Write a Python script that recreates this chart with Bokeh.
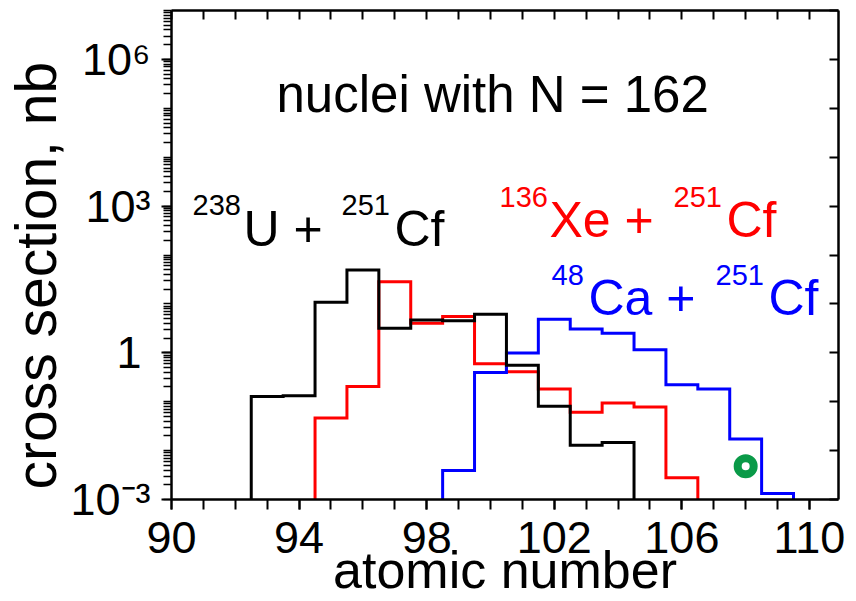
import numpy as np
from bokeh.plotting import figure
from bokeh.models import (Label, FixedTicker, LinearAxis, LogAxis, Range1d, Title)
from bokeh.embed import file_html
from bokeh.resources import INLINE

# ---------------- data ----------------
z_u = [93, 94, 95, 96, 97, 98, 99, 100, 101, 102, 103, 104]
sigma_u = [0.128, 0.133, 10.8, 49.4, 3.19, 4.71, 4.50, 6.16, 0.556, 0.081, 0.0129, 0.0146]

z_xe = [95, 96, 97, 98, 99, 100, 101, 102, 103, 104, 105, 106]
sigma_xe = [0.0464, 0.205, 28.5, 4.04, 5.5, 0.597, 0.41, 0.181, 0.0605, 0.094, 0.078, 0.00277]

z_ca = [99, 100, 101, 102, 103, 104, 105, 106, 107, 108, 109]
sigma_ca = [0.0039, 0.396, 0.986, 4.87, 3.05, 2.52, 1.15, 0.222, 0.182, 0.0173, 0.00132]

z_exp = [108]
sigma_exp = [0.0048]

x_ticks = [90, 94, 98, 102, 106, 110]
x_minor = list(range(90, 111))
y_decades = list(range(-3, 8))
y_labelled = [-3, 0, 3, 6]
y_tick_labels = ["10\u207b\u00b3", "1\u2009", "10\u00b3", "10\u2076"]

XMIN, XMAX = 90, 110.91
YMIN, YMAX = 1e-3, 1e7

# ---------------- layout constants ----------------
W, H = 856, 601
FL, FR, FT, FB = 171, 838, 10, 500
PXU = (FR - FL) / (XMAX - XMIN)
PYD = (FB - FT) / (np.log10(YMAX) - np.log10(YMIN))
FONT = "Liberation Sans"
BASE_SHIFT = 0.355  # empirical baseline correction (em)


def xd(px):
    return XMIN + (px - FL) / PXU


def yd(py):
    return 10 ** (np.log10(YMIN) + (FB - py) / PYD)


p = figure(width=W, height=H, x_range=Range1d(XMIN, XMAX), y_range=Range1d(YMIN, YMAX),
           y_axis_type="log", output_backend="svg", toolbar_location=None,
           min_border_left=FL, min_border_right=W - FR, min_border_top=FT,
           min_border_bottom=H - FB)
p.xgrid.visible = False
p.ygrid.visible = False
p.outline_line_color = None
p.background_fill_color = "white"
p.border_fill_color = "white"

# bottom axis
xa = p.xaxis[0]
xa.ticker = FixedTicker(ticks=x_ticks, minor_ticks=x_minor)
xa.axis_line_width = 2.5
xa.major_tick_in = 0
xa.major_tick_out = 10
xa.minor_tick_in = 0
xa.minor_tick_out = 10
xa.major_tick_line_width = 2
xa.minor_tick_line_width = 2
xa.major_label_text_font = FONT
xa.major_label_text_font_size = "45px"
xa.major_label_text_color = "black"
xa.major_label_standoff = 12
xa.axis_label = "atomic number"
xa.axis_label_text_font = FONT
xa.axis_label_text_font_size = "52px"
xa.axis_label_text_font_style = "normal"
xa.axis_label_text_color = "black"
xa.axis_label_standoff = -15

# left axis: labelled decades are major ticks, others minor
ya = p.yaxis[0]
ya.ticker = FixedTicker(ticks=[10.0 ** k for k in y_labelled],
                        minor_ticks=[m * 10.0 ** k for k in y_decades[:-1] for m in range(1, 10)]
                        + [10.0 ** y_decades[-1]])
ya.axis_line_width = 2.5
ya.major_tick_in = 0
ya.major_tick_out = 10
ya.minor_tick_in = 0
ya.minor_tick_out = 8
ya.major_tick_line_width = 2
ya.minor_tick_line_width = 1.5
ya.major_label_overrides = {10.0 ** k: t for k, t in zip(y_labelled, y_tick_labels)}
ya.major_label_text_font = FONT
ya.major_label_text_font_size = "45px"
ya.major_label_text_color = "black"
ya.major_label_standoff = 11

p.add_layout(Title(text="cross section, nb", text_font=FONT, text_font_size="57px",
                   text_font_style="normal", text_color="black", align="left",
                   offset=10, standoff=0), "left")

# top axis (mirror, inward ticks)
ta = LinearAxis(ticker=FixedTicker(ticks=x_minor), axis_line_width=2.5,
                major_tick_in=9, major_tick_out=0, major_tick_line_width=2,
                minor_tick_line_color=None, major_label_text_font_size="1px",
                major_label_text_color=None, major_label_standoff=0)
p.add_layout(ta, "above")

# right axis (mirror, inward ticks)
ra = LogAxis(ticker=FixedTicker(ticks=[10.0 ** k for k in y_decades]), axis_line_width=2.5,
             major_tick_in=9, major_tick_out=0, major_tick_line_width=2,
             minor_tick_line_color=None, major_label_text_font_size="1px",
             major_label_text_color=None, major_label_standoff=0)
p.add_layout(ra, "right")


def hist_path(z, s, floor=YMIN):
    xs = [z[0] - 0.5]
    ys = [floor]
    for zi, si in zip(z, s):
        xs += [zi - 0.5, zi + 0.5]
        ys += [si, si]
    xs.append(z[-1] + 0.5)
    ys.append(floor)
    return xs, ys


for z, s, c in [(z_xe, sigma_xe, "#ff0000"), (z_ca, sigma_ca, "#0000ff"), (z_u, sigma_u, "#000000")]:
    xs, ys = hist_path(z, s)
    p.line(xs, ys, line_color=c, line_width=3, line_join="miter")

p.scatter(z_exp, sigma_exp, size=16, fill_color=None, line_color="#0a9a48", line_width=8)


def lab(text, px, py, size, color="black"):
    p.add_layout(Label(x=float(xd(px)), y=float(yd(py - BASE_SHIFT * size)), text=text,
                       text_font=FONT, text_font_size=f"{size}px", text_color=color,
                       text_align="left", text_baseline="alphabetic"))


# title
lab("nuclei with N = 162", 276, 112, 51)

# reaction labels
lab("238", 192, 215, 29)
lab("U + ", 243, 247, 50)
lab("251", 341, 215, 29)
lab("Cf", 394, 247, 50)

lab("136", 499, 207, 29, color="#ff0000")
lab("Xe + ", 549, 238, 50, color="#ff0000")
lab("251", 673, 207, 29, color="#ff0000")
lab("Cf", 726, 238, 50, color="#ff0000")

lab("48", 551, 285, 29, color="#0000ff")
lab("Ca + ", 588, 316, 50, color="#0000ff")
lab("251", 715, 285, 29, color="#0000ff")
lab("Cf", 768, 316, 50, color="#0000ff")

open("out.html", "w").write(file_html(p, INLINE))
